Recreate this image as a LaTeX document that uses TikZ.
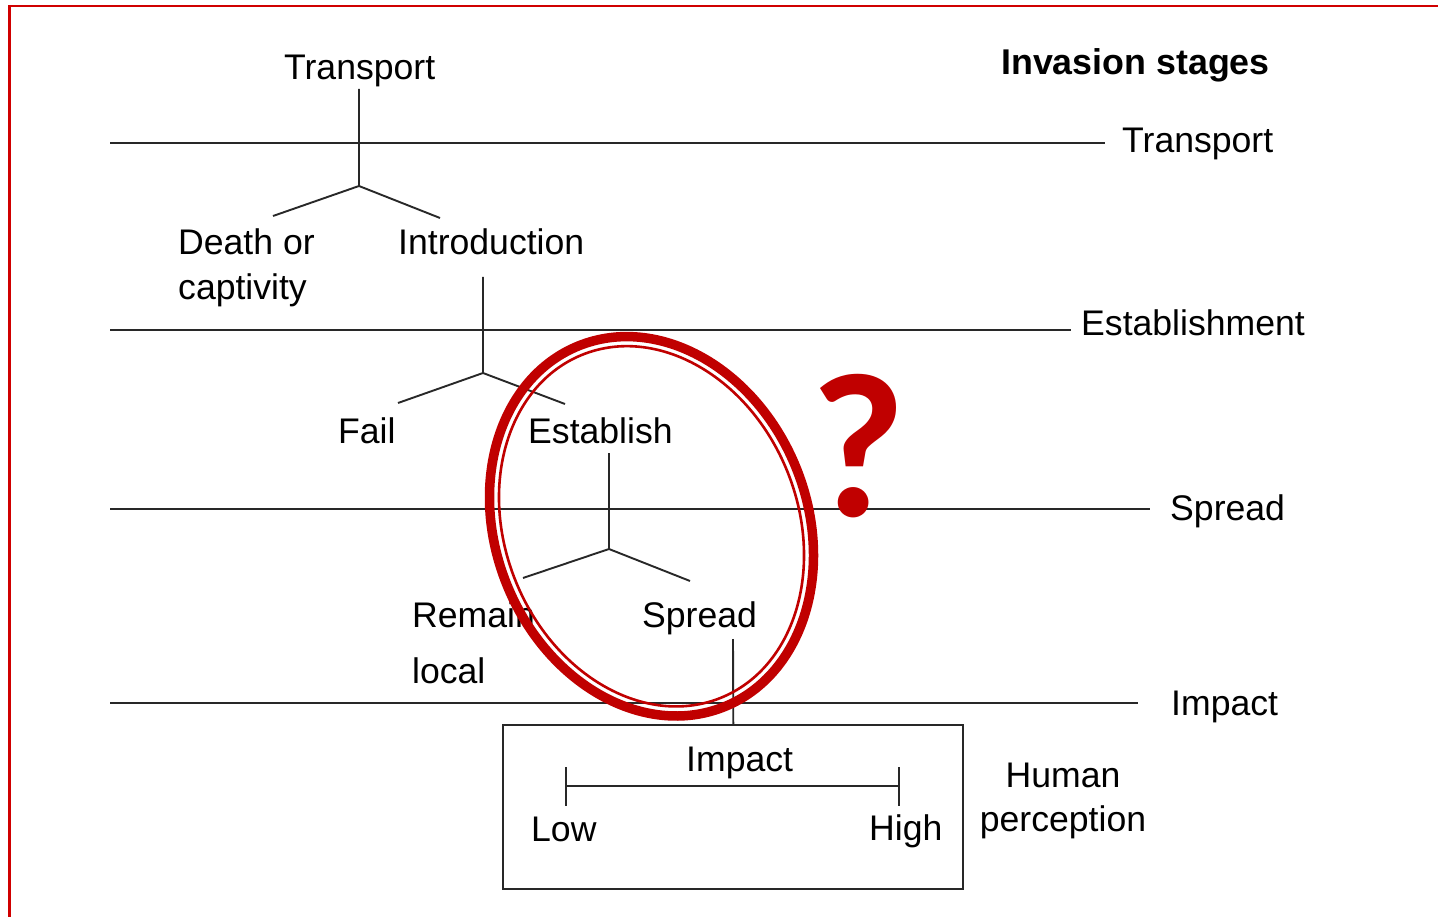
\documentclass[tikz,border=0pt]{standalone}
\usepackage{fontspec}
\setmainfont{Liberation Sans}
\newfontfamily\markfont{Carlito}
\definecolor{markred}{RGB}{192,0,0}
\definecolor{framered}{RGB}{208,0,0}
\definecolor{ink}{RGB}{40,40,40}
\begin{document}
\begin{tikzpicture}[x=1pt,y=1pt,
  lbl/.style={inner sep=0pt, anchor=base west, font=\fontsize{35.6}{45}\selectfont},
  ln/.style={line width=1.9pt, draw=ink},
  frameline/.style={line width=2.4pt, draw=framered},
  thickring/.style={line width=9.5pt, draw=markred},
  thinring/.style={line width=2.6pt, draw=markred}]
\useasboundingbox (0,0) rectangle (1438,-917);
\fill[white] (0,0) rectangle (1438,-917);

% page frame
\draw[frameline] (9.5,-920) -- (9.5,-6) -- (1440,-6);

% stage labels on the right
\node[lbl, font=\fontsize{35.8}{45}\selectfont\bfseries] (stages) at (1001,-75) {Invasion stages};
\node[lbl] (sT) at (1122,-153) {Transport};
\node[lbl] (sE) at (1081,-336) {Establishment};
\node[lbl] (sS) at (1170,-520) {Spread};
\node[lbl] (sI) at (1171,-715) {Impact};

% stage boundaries
\coordinate (h1a) at (110,-143);  \coordinate (h1b) at (1105,-143);
\coordinate (h2a) at (110,-330);  \coordinate (h2b) at (1071,-330);
\coordinate (h3a) at (110,-509);  \coordinate (h3b) at (1150,-509);
\coordinate (h4a) at (110,-703);  \coordinate (h4b) at (1138,-703);
\draw[ln] (h1a) -- (h1b);
\draw[ln] (h2a) -- (h2b);
\draw[ln] (h3a) -- (h3b);
\draw[ln] (h4a) -- (h4b);

% outcome labels (multi-line nodes sit on their last baseline)
\node[lbl] (tTop) at (284,-80) {Transport};
\node[lbl, align=left] (death) at (178,-300) {Death or\\captivity};
\node[lbl] (intro) at (398,-255) {Introduction};
\node[lbl] (fail) at (338,-443) {Fail};
\node[lbl] (estab) at (528,-443) {Establish};
\node[lbl, align=left, font=\fontsize{35.6}{56}\selectfont] (remain) at (412,-683) {Remain\\local};
\node[lbl] (spread) at (642,-627) {Spread};

% branching points
\coordinate (a0) at (359,-89);  \coordinate (a1) at (359,-186);
\coordinate (a2) at (273,-216); \coordinate (a3) at (440,-218);
\coordinate (b0) at (483,-277); \coordinate (b1) at (483,-373);
\coordinate (b2) at (398,-403); \coordinate (b3) at (565,-404);
\coordinate (c0) at (609,-453); \coordinate (c1) at (609,-549);
\coordinate (c2) at (523,-578); \coordinate (c3) at (690,-581);
\coordinate (d0) at (733,-639);
\draw[ln] (a0) -- (a1) (a2) -- (a1) -- (a3);
\draw[ln] (b0) -- (b1) (b2) -- (b1) -- (b3);
\draw[ln] (c0) -- (c1) (c2) -- (c1) -- (c3);

% impact box
\node[draw=ink, line width=2pt, inner sep=0pt, minimum width=460pt, minimum height=164pt] (box) at (733.3,-807.2) {};
\draw[ln] (d0) -- (box.north);
\node[lbl] (imp) at (686,-771) {Impact};
\coordinate (s0) at (566,-786); \coordinate (s1) at (899,-786);
\draw[ln] (s0) -- (s1);
\draw[ln] ([yshift=19pt]s0) -- ([yshift=-20pt]s0);
\draw[ln] ([yshift=19pt]s1) -- ([yshift=-20pt]s1);
\node[lbl] (low) at (531,-841) {Low};
\node[lbl] (high) at (869,-840) {High};
\node[inner sep=0pt, anchor=base, align=center, font=\fontsize{35.6}{44}\selectfont] (human) at (1063,-831) {Human\\perception};

% highlight ring and question mark
\coordinate (rc) at (651.5,-526.3);
\draw[thickring, rotate around={22:(rc)}] (rc) ellipse [x radius=156pt, y radius=194.6pt];
\draw[thinring, rotate around={22:(rc)}] (rc) ellipse [x radius=146.5pt, y radius=185pt];
\node[inner sep=0pt, anchor=base, text=markred, font=\markfont\bfseries\fontsize{206}{206}\selectfont] (qm) at (858,-516) {?};
\end{tikzpicture}
\end{document}
